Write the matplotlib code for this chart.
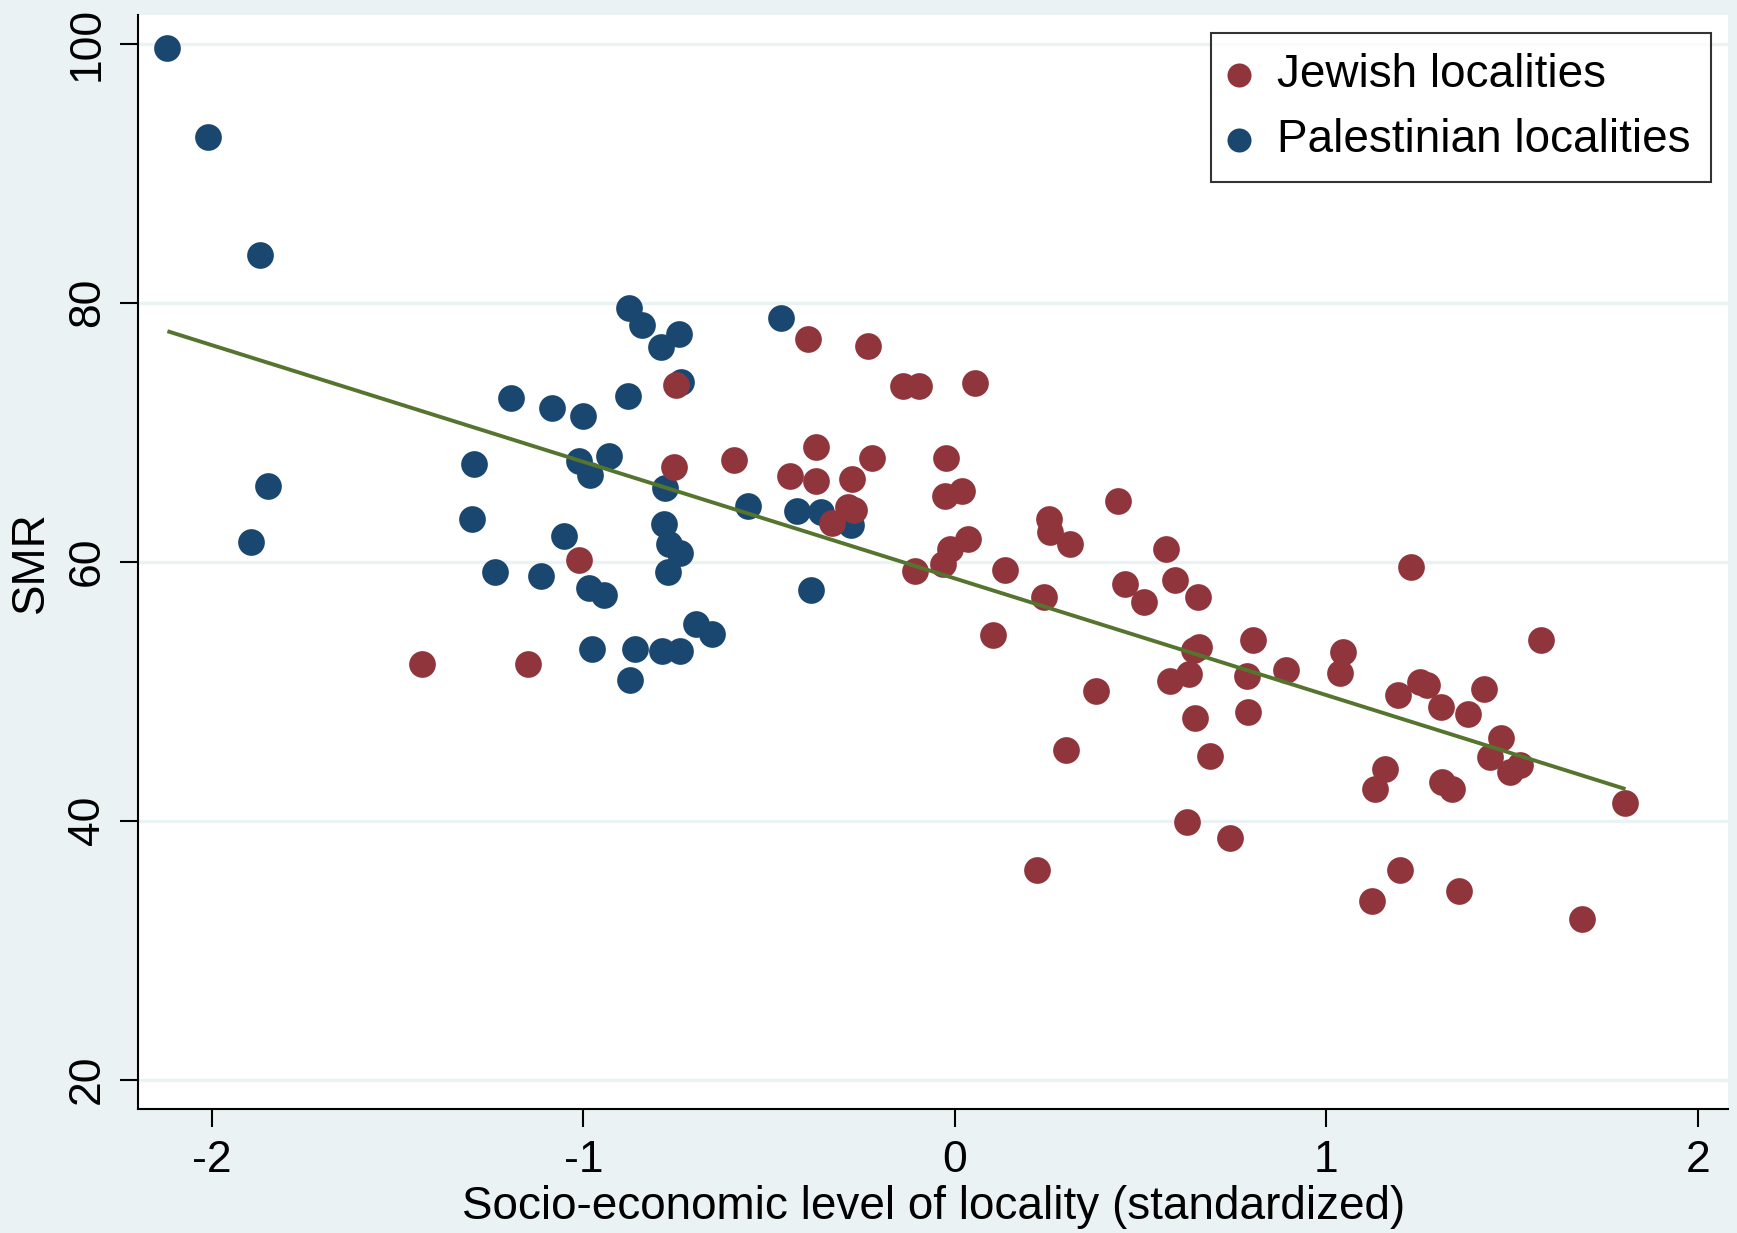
import numpy as np
import matplotlib
matplotlib.use("Agg")
import matplotlib.pyplot as plt

plt.rcParams['font.family'] = ['Liberation Sans', 'DejaVu Sans']

# Palestinian localities: socio-economic level (standardized), SMR
pal_x = [-2.120, -2.010, -1.872, -1.849, -1.894,
         -0.878, -0.842, -0.744, -0.790, -0.737, -0.469, -1.196, -1.084,
         -1.001, -0.879, -1.295, -1.012, -0.932, -0.982, -0.780, -1.301,
         -0.557, -0.425, -0.361, -0.280, -1.053, -0.783, -0.770, -0.739,
         -0.772, -1.238, -1.114, -0.985, -0.945, -0.388, -0.696, -0.654,
         -0.977, -0.860, -0.789, -0.740, -0.874]
pal_y = [99.64, 92.77, 83.66, 65.82, 61.54,
         79.57, 78.28, 77.58, 76.56, 73.90, 78.80, 72.66, 71.87,
         71.28, 72.77, 67.57, 67.78, 68.16, 66.67, 65.67, 63.27,
         64.28, 63.89, 63.81, 62.83, 61.98, 62.88, 61.34, 60.69,
         59.18, 59.18, 58.87, 57.99, 57.40, 57.79, 55.19, 54.39,
         53.28, 53.28, 53.08, 53.08, 50.89]

# Jewish localities
jew_x = [-1.434, -1.150, -1.012, -0.752, -0.756, -0.594, -0.444, -0.395,
         -0.374, -0.375, -0.332, -0.287, -0.276, -0.271, -0.235, -0.222,
         -0.139, -0.096, -0.108, -0.031, -0.024, -0.028, -0.014, 0.018,
         0.036, 0.055, 0.102, 0.134, 0.221, 0.240, 0.253, 0.257,
         0.300, 0.311, 0.380, 0.438, 0.459, 0.510, 0.569, 0.580,
         0.592, 0.625, 0.631, 0.643, 0.645, 0.655, 0.658, 0.686,
         0.740, 0.786, 0.789, 0.803, 0.890, 1.036, 1.045, 1.122,
         1.130, 1.158, 1.193, 1.199, 1.227, 1.251, 1.272, 1.308,
         1.312, 1.337, 1.358, 1.380, 1.425, 1.441, 1.470, 1.493,
         1.522, 1.578, 1.688, 1.805]
jew_y = [52.08, 52.08, 60.10, 73.67, 67.29, 67.88, 66.59, 77.17,
         68.88, 66.21, 62.96, 64.25, 66.39, 63.99, 76.68, 67.98,
         73.57, 73.57, 59.31, 59.80, 67.98, 65.07, 60.95, 65.48,
         61.78, 73.78, 54.32, 59.36, 36.22, 57.27, 63.32, 62.27,
         45.48, 61.39, 49.98, 64.69, 58.28, 56.87, 60.97, 50.78,
         58.59, 39.87, 51.29, 53.18, 47.89, 57.27, 53.44, 45.00,
         38.66, 51.19, 48.38, 53.98, 51.61, 51.38, 53.00, 33.78,
         42.47, 43.95, 49.70, 36.17, 59.56, 50.69, 50.48, 48.78,
         42.96, 42.45, 34.59, 48.27, 50.17, 44.90, 46.36, 43.76,
         44.27, 53.98, 32.39, 41.37]

x_ticks = [-2, -1, 0, 1, 2]
y_ticks = [20, 40, 60, 80, 100]

NAVY = '#1A476F'
MAROON = '#90353B'
GREEN = '#55752F'
BG = '#EAF2F3'

fig = plt.figure(figsize=(17.37, 12.33), dpi=100, facecolor=BG)
ax = fig.add_axes([0.0797, 0.1003, 0.9948 - 0.0797, 0.9878 - 0.1003])
ax.set_facecolor('white')

ax.set_xlim(-2.198, 2.081)
ax.set_ylim(17.71, 102.2)

for yt in y_ticks:
    ax.axhline(yt, color=BG, lw=2.4, zorder=0.5)

s = 370
hp = ax.scatter(pal_x, pal_y, s=s, color=NAVY, linewidths=0, zorder=2,
                label='Palestinian localities')
hj = ax.scatter(jew_x, jew_y, s=s, color=MAROON, linewidths=0, zorder=3,
                label='Jewish localities')

# OLS fit over all localities
all_x = np.array(pal_x + jew_x)
all_y = np.array(pal_y + jew_y)
b, a = np.polyfit(all_x, all_y, 1)
xs = np.array([all_x.min(), all_x.max()])
ax.plot(xs, a + b * xs, color=GREEN, lw=2.8, zorder=4, solid_capstyle='butt')

ax.spines['top'].set_visible(False)
ax.spines['right'].set_visible(False)
for sp in ('left', 'bottom'):
    ax.spines[sp].set_linewidth(1.5)
    ax.spines[sp].set_color('black')

ax.set_xticks(x_ticks)
ax.set_yticks(y_ticks)
ax.set_xticklabels([str(v) for v in x_ticks])
ax.set_yticklabels([str(v) for v in y_ticks], rotation=90, va='center')
ax.tick_params(axis='both', length=13, width=1.5, labelsize=32, pad=9, colors='black')

ax.set_xlabel('Socio-economic level of locality (standardized)', fontsize=33, labelpad=3)
ax.set_ylabel('SMR', fontsize=33, labelpad=10)

leg = ax.legend(handles=[hj, hp], loc='upper right', bbox_to_anchor=(0.9895, 0.984),
                fontsize=33, frameon=True, fancybox=False, borderpad=0.45,
                handletextpad=0.65, handlelength=0.35, borderaxespad=0,
                markerscale=0.9, labelspacing=0.45)
leg.get_frame().set_edgecolor('black')
leg.get_frame().set_linewidth(1.5)

fig.savefig('out.png', dpi=100, facecolor=BG)
